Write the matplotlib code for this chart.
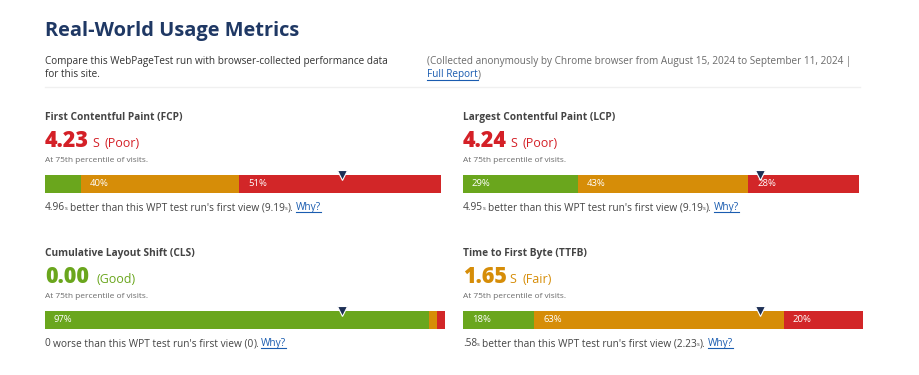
import matplotlib.pyplot as plt

plt.rcParams['font.family'] = ['Open Sans', 'DejaVu Sans']

title = "Real-World Usage Metrics"
intro = ["Compare this WebPageTest run with browser-collected performance data", "for this site."]
collected = "(Collected anonymously by Chrome browser from August 15, 2024 to September 11, 2024 |"

metric_names = ["First Contentful Paint (FCP)", "Largest Contentful Paint (LCP)",
                "Cumulative Layout Shift (CLS)", "Time to First Byte (TTFB)"]
metric_values = ["4.23", "4.24", "0.00", "1.65"]
metric_units = ["S", "S", "", "S"]
ratings = ["Poor", "Poor", "Good", "Fair"]
good_pct = [9, 29, 97, 18]
ni_pct = [40, 43, 2, 63]
poor_pct = [51, 28, 2, 20]
diffs = ["4.96", "4.95", "0", ".58"]
diff_words = ["better", "better", "worse", "better"]
first_views = ["9.19", "9.19", "0", "2.23"]
diff_units = ["s", "s", "", "s"]

GREEN, ORANGE, RED = "#6aa61d", "#d68d08", "#d22628"
rating_colors = {"Poor": "#d42027", "Good": "#6aa61d", "Fair": "#d68d08"}
NAVY = "#1f3864"
TEXT = "#444444"
GRAY = "#6b6b6b"
LINK = "#1a5cb0"

fig = plt.figure(figsize=(9.2, 3.75), dpi=100)
ax = fig.add_axes([0, 0, 1, 1])
ax.set_xlim(0, 920)
ax.set_ylim(375, 0)
ax.axis("off")
renderer = fig.canvas.get_renderer()


def width(s, **kw):
    t = ax.text(0, 0, s, **kw)
    w = t.get_window_extent(renderer).width
    t.remove()
    return w


def write(x, y, parts):
    # parts: (text, style, underline, gap in px after)
    for s, kw, under, gap in parts:
        ax.text(x, y, s, va="baseline", ha="left", **kw)
        w = width(s, **kw)
        if under:
            ax.plot([x, x + w], [y + 2, y + 2], color=kw.get("color"), lw=0.8)
        x += w + gap
    return x


# header
ax.text(45, 36, title, fontsize=14.4, fontweight="bold", color=NAVY, va="baseline")
ax.text(45, 64, intro[0], fontsize=7.2, color="#333333", va="baseline")
ax.text(45, 77, intro[1], fontsize=7.2, color="#333333", va="baseline")
ax.text(427, 64, collected, fontsize=7.2, color=GRAY, va="baseline")
write(427, 77.5, [("Full Report", dict(fontsize=7.2, color=LINK), True, 0.5),
                  (")", dict(fontsize=7.2, color=GRAY), False, 0)])
ax.plot([45, 860], [87, 87], color="#f0f0f0", lw=1)

col_x = [45, 463]
for i in range(4):
    x0 = col_x[i % 2]
    dy = 136 * (i // 2)
    color = rating_colors[ratings[i]]

    ax.text(x0, 120 + dy, metric_names[i], fontsize=7.3, fontweight="bold", color=TEXT, va="baseline")

    big = dict(fontsize=15.5, fontweight=800, color=color)
    mid = dict(fontsize=9, color=color)
    parts = [(metric_values[i], big, False, 3 if metric_units[i] else 8)]
    if metric_units[i]:
        parts.append((metric_units[i], mid, False, 6))
    parts.append(("(" + ratings[i] + ")", mid, False, 0))
    write(x0, 147 + dy, parts)

    ax.text(x0, 162 + dy, "At 75th percentile of visits.", fontsize=6.0, color=GRAY, va="baseline")

    small = dict(fontsize=4.2, color=TEXT)
    normal = dict(fontsize=7.3, color=TEXT)
    sp = 2.2
    parts = [(diffs[i], normal, False, 0 if diff_units[i] else sp)]
    if diff_units[i]:
        parts.append((diff_units[i], small, False, sp))
    parts.append((diff_words[i] + " than this WPT test run's first view (" + first_views[i], normal, False, 0.2))
    if diff_units[i]:
        parts.append((diff_units[i], small, False, 0.2))
    parts.append((").", normal, False, sp))
    parts.append(("Why?", dict(fontsize=7.3, color=LINK), True, 0))
    write(x0, 210 + dy, parts)

    # distribution bar
    by = 175 + dy
    bax = fig.add_axes([x0 / 920, 1 - (by + 18) / 375, 396 / 920, 18 / 375])
    left = 0
    for v, c in zip([good_pct[i], ni_pct[i], poor_pct[i]], [GREEN, ORANGE, RED]):
        bax.barh(0, v, left=left, height=1, color=c, linewidth=0, clip_on=False)
        if v >= 10:
            bax.annotate(f"{v}%", (left, 0), xytext=(9, 0), textcoords="offset pixels",
                         va="center", ha="left", color="white", fontsize=6.8)
        left += v
    bax.set_xlim(0, 100)
    bax.set_ylim(-0.5, 0.5)
    bax.axis("off")
    bax.plot(75, 0.5, "v", color="#1d2f55", markersize=7, markeredgecolor="white",
             markeredgewidth=0.8, clip_on=False, zorder=5)

fig.savefig("out.png", dpi=100)
